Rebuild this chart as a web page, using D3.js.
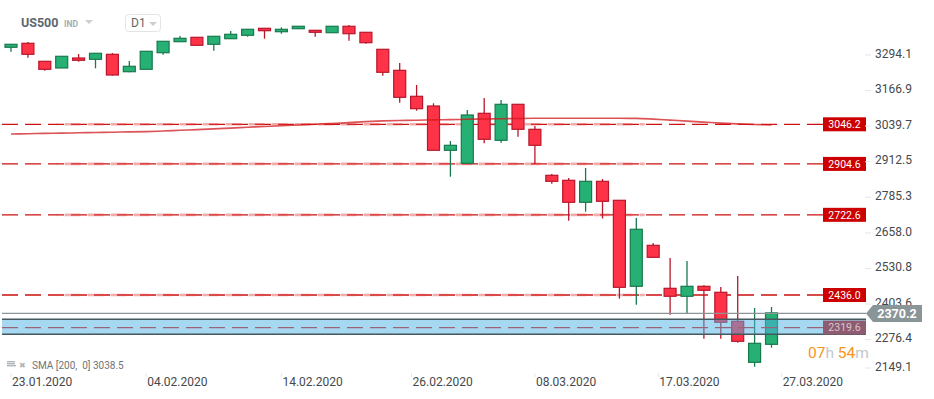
<!DOCTYPE html>
<html lang="en">
<head>
    <meta charset="UTF-8">
    <title>US500 D1</title>
    <script src="https://d3js.org/d3.v7.min.js"></script>
    <style>
        body { margin: 0; background: #fff; }
        text { font-family: Roboto, "Noto Sans", sans-serif; }
    </style>
</head>
<body>
    <script>
        // daily candles, oldest first
        var opens  = [3321.5, 3335.8, 3271.4, 3247.5, 3283.2, 3278.6, 3296.4, 3234.2, 3242.8, 3302.2,
                      3341.5, 3357.2, 3332.2, 3352.2, 3364.4, 3389.4, 3377.2, 3388.0, 3382.2, 3373.7,
                      3396.6, 3375.1, 3314.3, 3239.2, 3146.3, 3111.6, 2953.3, 2906.8, 3085.5, 2989.0,
                      3117.7, 3028.3, 2863.9, 2846.0, 2767.4, 2842.4, 2774.5, 2467.1, 2613.6, 2459.9,
                      2431.4, 2467.1, 2445.7, 2342.1, 2195.4, 2259.7];
        var highs  = [3333.3, 3340.4, 3271.4, 3289.3, 3297.5, 3300.0, 3301.1, 3272.5, 3307.2, 3342.9,
                      3361.8, 3357.2, 3360.8, 3379.7, 3385.8, 3389.4, 3392.9, 3396.6, 3382.2, 3396.6,
                      3401.2, 3375.1, 3314.3, 3265.3, 3186.7, 3121.3, 2986.5, 3097.3, 3140.2, 3133.0,
                      3117.7, 3040.1, 2868.5, 2854.2, 2890.0, 2850.6, 2774.5, 2711.2, 2621.9, 2568.2,
                      2557.5, 2470.6, 2464.6, 2503.9, 2389.5, 2393.1];
        var lows   = [3305.7, 3284.3, 3237.8, 3247.5, 3270.0, 3246.4, 3219.9, 3232.1, 3242.8, 3295.0,
                      3341.5, 3328.6, 3309.3, 3352.2, 3359.4, 3352.2, 3370.1, 3388.0, 3359.4, 3373.7,
                      3345.0, 3334.3, 3219.9, 3123.4, 3094.8, 2953.3, 2858.9, 2906.8, 2978.3, 2980.4,
                      3001.9, 2904.3, 2833.9, 2701.6, 2733.8, 2709.5, 2422.8, 2401.3, 2570.7, 2365.6,
                      2369.1, 2279.8, 2279.8, 2265.4, 2179.7, 2247.6];
        var closes = [3332.2, 3296.4, 3242.8, 3289.3, 3275.0, 3300.0, 3222.4, 3253.5, 3307.2, 3342.9,
                      3353.6, 3328.6, 3360.8, 3367.9, 3385.8, 3380.8, 3385.8, 3396.6, 3375.1, 3396.6,
                      3370.1, 3337.9, 3232.1, 3142.7, 3102.0, 2953.3, 2971.1, 3079.5, 2992.6, 3117.7,
                      3028.3, 2971.1, 2842.4, 2767.4, 2842.4, 2770.9, 2463.5, 2670.9, 2570.7, 2431.4,
                      2467.1, 2452.8, 2338.5, 2270.5, 2263.3, 2372.0];

        // SMA(200) under each candle
        var smaValues = [3011.5, 3012.6, 3013.7, 3014.7, 3015.8, 3016.9, 3018.0, 3019.0, 3020.1, 3022.3,
                         3024.8, 3027.3, 3029.8, 3032.6, 3035.5, 3038.4, 3041.2, 3043.7, 3046.2, 3049.1,
                         3052.3, 3055.9, 3058.4, 3059.8, 3060.9, 3061.9, 3063.0, 3064.1, 3065.2, 3065.9,
                         3067.0, 3067.6, 3067.6, 3067.6, 3067.6, 3067.6, 3067.6, 3067.3, 3064.8, 3061.2,
                         3057.6, 3054.1, 3050.5, 3047.6, 3045.5, 3043.7];

        var levelValues = [3046.2, 2904.6, 2722.6, 2436.0];
        var zoneBottom = 2295.5, zoneTop = 2349.1, zoneLevel = 2319.6;
        var lastPrice = 2370.2;
        var smaLast = 3038.5;

        var yTickValues = [3294.1, 3166.9, 3039.7, 2912.5, 2785.3, 2658.0, 2530.8, 2403.6, 2276.4, 2149.1];
        // x ticks sit at (fractional) candle positions
        var xTickPos    = [0, 8, 16, 23.7, 31, 38.3, 45.6];
        var xTickLabels = ['23.01.2020', '04.02.2020', '14.02.2020', '26.02.2020', '08.03.2020', '17.03.2020', '27.03.2020'];

        var width = 934, height = 399;
        var plotLeft = 2, plotRight = 866, labelLeft = 823;

        var svg = d3.select('body').append('svg')
            .attr('width', width)
            .attr('height', height);

        var x = d3.scaleLinear().domain([0, closes.length - 1]).range([11, 771.5]);
        var y = d3.scaleLinear().domain([2436.0, 3046.2]).range([295, 124.3]);

        // header
        svg.append('text').attr('x', 21).attr('y', 27).text('US500')
            .attr('font-size', 12.5).attr('font-weight', 'bold').attr('fill', '#5b6770');
        svg.append('text').attr('x', 64).attr('y', 27).text('IND')
            .attr('font-size', 8.5).attr('font-weight', 'bold').attr('fill', '#a3acb2');
        svg.append('path').attr('d', 'M85,20 L93,20 L89,24 Z').attr('fill', '#c9ced2');
        svg.append('rect').attr('x', 125.5).attr('y', 14.5).attr('width', 35).attr('height', 17).attr('rx', 3)
            .attr('fill', '#fff').attr('stroke', '#e2e4e6');
        svg.append('text').attr('x', 131).attr('y', 27).text('D1')
            .attr('font-size', 12).attr('fill', '#666');
        svg.append('path').attr('d', 'M149,22 L157,22 L153,26 Z').attr('fill', '#c9ced2');

        // horizontal levels
        var levels = svg.append('g');
        levels.selectAll('line.dark')
            .data(levelValues)
            .enter()
            .append('line')
            .attr('x1', plotLeft).attr('x2', labelLeft)
            .attr('y1', function (d) { return y(d); })
            .attr('y2', function (d) { return y(d); })
            .attr('stroke', '#cc1111')
            .attr('stroke-width', 1.3)
            .attr('stroke-dasharray', '16,7');
        levels.selectAll('line.pale')
            .data(levelValues)
            .enter()
            .append('line')
            .attr('x1', x(2.7)).attr('x2', x(37.5))
            .attr('y1', function (d) { return y(d); })
            .attr('y2', function (d) { return y(d); })
            .attr('stroke', 'rgba(226,70,70,0.45)')
            .attr('stroke-width', 2.6)
            .attr('stroke-dasharray', '16,7')
            .attr('stroke-dashoffset', -8);

        // candles
        var candles = svg.append('g').selectAll('g')
            .data(closes)
            .enter()
            .append('g')
            .attr('class', function (d, i) { return d >= opens[i] ? 'up' : 'down'; });

        function edge(i) { return closes[i] >= opens[i] ? '#18794e' : '#b8172b'; }
        function fill(i) { return closes[i] >= opens[i] ? '#26b074' : '#ff3347'; }

        candles.append('line')
            .attr('x1', function (d, i) { return x(i); })
            .attr('x2', function (d, i) { return x(i); })
            .attr('y1', function (d, i) { return y(highs[i]); })
            .attr('y2', function (d, i) { return y(lows[i]); })
            .attr('stroke', function (d, i) { return edge(i); })
            .attr('stroke-width', 1.3);
        candles.append('rect')
            .attr('x', function (d, i) { return x(i) - 6; })
            .attr('width', 12)
            .attr('y', function (d, i) { return y(Math.max(opens[i], closes[i])); })
            .attr('height', function (d, i) { return Math.max(1, Math.abs(y(opens[i]) - y(closes[i]))); })
            .attr('fill', function (d, i) { return fill(i); })
            .attr('stroke', function (d, i) { return edge(i); })
            .attr('stroke-width', 1.2);

        // SMA 200
        var smaLine = d3.line()
            .x(function (d, i) { return x(i); })
            .y(function (d) { return y(d); })
            .curve(d3.curveMonotoneX);
        svg.append('path')
            .datum(smaValues)
            .attr('d', smaLine)
            .attr('fill', 'none')
            .attr('stroke', 'rgba(208,24,30,0.75)')
            .attr('stroke-width', 1.6);

        // support zone
        svg.append('rect')
            .attr('x', plotLeft).attr('width', plotRight - plotLeft)
            .attr('y', y(zoneTop)).attr('height', y(zoneBottom) - y(zoneTop))
            .attr('fill', 'rgba(80,178,230,0.5)');
        svg.selectAll('line.zone')
            .data([zoneTop, zoneBottom])
            .enter()
            .append('line')
            .attr('x1', plotLeft).attr('x2', plotRight)
            .attr('y1', function (d) { return y(d); })
            .attr('y2', function (d) { return y(d); })
            .attr('stroke', '#45585f')
            .attr('stroke-width', 1.5);
        svg.append('line')
            .attr('x1', plotLeft).attr('x2', labelLeft)
            .attr('y1', y(zoneLevel)).attr('y2', y(zoneLevel))
            .attr('stroke', '#9a6477').attr('stroke-width', 1.3)
            .attr('stroke-dasharray', '16,7');

        // last price line
        svg.append('line')
            .attr('x1', plotLeft).attr('x2', plotRight)
            .attr('y1', y(lastPrice)).attr('y2', y(lastPrice))
            .attr('stroke', '#8b9598').attr('stroke-width', 1.2);

        // level labels
        var tags = svg.append('g').selectAll('g')
            .data(levelValues.concat([zoneLevel]))
            .enter()
            .append('g')
            .attr('transform', function (d) { return 'translate(' + labelLeft + ',' + y(d) + ')'; });
        tags.append('rect')
            .attr('x', 0).attr('y', -7).attr('width', plotRight - labelLeft).attr('height', 14)
            .attr('fill', function (d) { return d === zoneLevel ? '#8e5b70' : '#cc0000'; });
        tags.append('text')
            .attr('x', (plotRight - labelLeft) / 2).attr('y', 0).attr('dy', '0.35em')
            .attr('text-anchor', 'middle')
            .attr('font-size', 10.5)
            .attr('fill', function (d) { return d === zoneLevel ? '#d9c7cf' : '#fff'; })
            .text(function (d) { return d.toFixed(1); });

        // y axis
        var yAxis = svg.append('g');
        yAxis.selectAll('line')
            .data(yTickValues)
            .enter()
            .append('line')
            .attr('x1', 865).attr('x2', 871)
            .attr('y1', function (d) { return Math.min(y(d), 368); })
            .attr('y2', function (d) { return Math.min(y(d), 368); })
            .attr('stroke', '#e6e6e6');
        yAxis.selectAll('text')
            .data(yTickValues)
            .enter()
            .append('text')
            .attr('x', 875)
            .attr('y', function (d) { return Math.min(y(d), 368) - 1.5; })
            .attr('dy', '0.35em')
            .attr('font-size', 12)
            .attr('fill', '#45494c')
            .text(function (d) { return d.toFixed(1); });

        // last price tag
        var py = y(lastPrice);
        svg.append('path')
            .attr('d', 'M866,' + py + ' L873,' + (py - 8.5) + ' L922,' + (py - 8.5) + ' L922,' + (py + 8.5) + ' L873,' + (py + 8.5) + ' Z')
            .attr('fill', '#8a9598');
        svg.append('text')
            .attr('x', 897).attr('y', py).attr('dy', '0.36em')
            .attr('text-anchor', 'middle')
            .attr('font-size', 12.5).attr('font-weight', 'bold')
            .attr('fill', '#fff')
            .text(lastPrice.toFixed(1));

        // candle countdown
        var countdown = svg.append('text').attr('x', 808).attr('y', 358).attr('font-size', 15.5);
        countdown.append('tspan').attr('fill', '#f7941d').text('07');
        countdown.append('tspan').attr('fill', '#c3c7ca').text('h ');
        countdown.append('tspan').attr('fill', '#f7941d').text('54');
        countdown.append('tspan').attr('fill', '#c3c7ca').text('m');

        // indicator legend
        var legend = svg.append('g').attr('transform', 'translate(7,361)');
        legend.selectAll('rect')
            .data([0, 2, 4])
            .enter()
            .append('rect')
            .attr('x', 0).attr('y', function (d) { return d; })
            .attr('width', function (d) { return d === 4 ? 9 : 8; }).attr('height', 1.4)
            .attr('fill', '#b0b5b8');
        legend.append('text').attr('x', 12).attr('y', 6.5).text('\u2716')
            .attr('font-size', 8).attr('fill', '#b0b5b8');
        legend.append('text').attr('x', 25).attr('y', 7.5).text('SMA [200,  0] ' + smaLast.toFixed(1))
            .attr('font-size', 10).attr('fill', '#6f7477')
            .attr('xml:space', 'preserve').style('white-space', 'pre');

        // x axis
        var xAxis = svg.append('g');
        xAxis.selectAll('line')
            .data(xTickPos)
            .enter()
            .append('line')
            .attr('x1', function (d) { return x(d); })
            .attr('x2', function (d) { return x(d); })
            .attr('y1', 373).attr('y2', 377)
            .attr('stroke', '#e6e6e6');
        xAxis.selectAll('text')
            .data(xTickPos)
            .enter()
            .append('text')
            .attr('x', function (d) { return x(d) + 1; })
            .attr('y', 386)
            .attr('font-size', 12)
            .attr('fill', '#45494c')
            .text(function (d, i) { return xTickLabels[i]; });
    </script>
</body>
</html>
